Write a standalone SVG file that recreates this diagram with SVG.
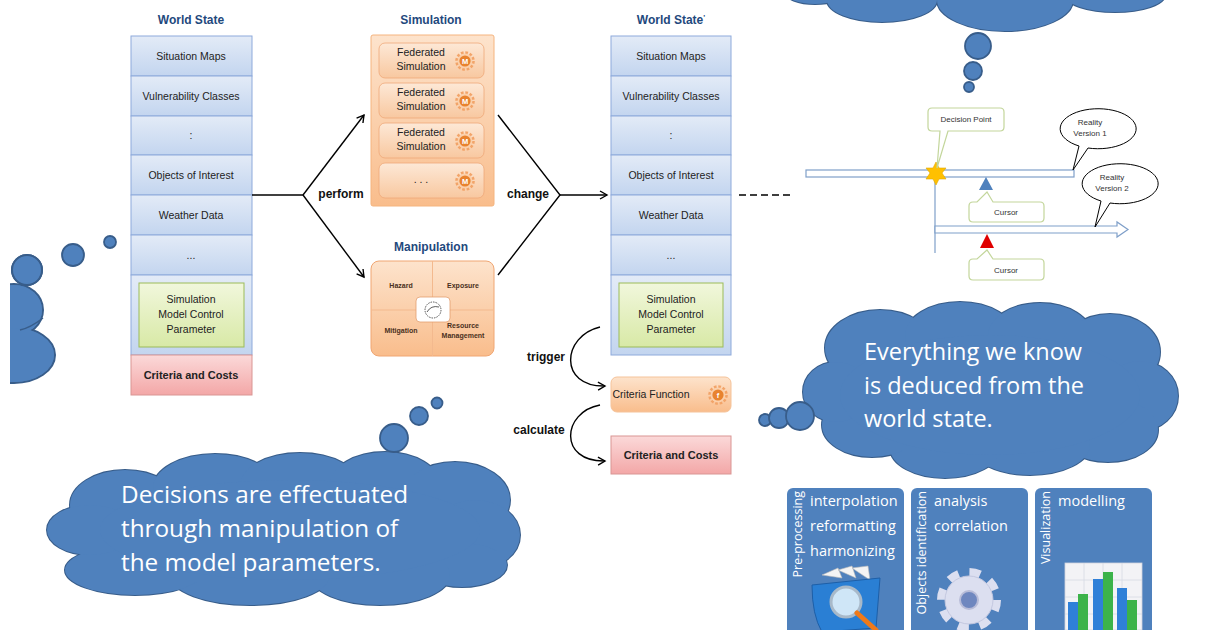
<svg xmlns="http://www.w3.org/2000/svg" width="1226" height="630" viewBox="0 0 1226 630">
  <defs>
    <style>
      .hdr { font-family: "Liberation Sans", Arial, sans-serif; font-weight: bold; font-size: 12px; fill: #1f497d; text-anchor: middle; }
      .cell { font-family: "Liberation Sans", Arial, sans-serif; font-size: 10.5px; fill: #222; text-anchor: middle; }
      .cellb { font-family: "Liberation Sans", Arial, sans-serif; font-size: 11px; font-weight: bold; fill: #222; text-anchor: middle; }
      .small { font-family: "Liberation Sans", Arial, sans-serif; font-size: 8px; fill: #333; text-anchor: middle; }
      .tiny { font-family: "Liberation Sans", Arial, sans-serif; font-size: 7px; font-weight: bold; fill: #4a3020; text-anchor: middle; }
      .badge { font-family: "Liberation Sans", Arial, sans-serif; font-size: 7.5px; font-weight: bold; fill: #ffffff; text-anchor: middle; }
      .lbl { font-family: "Liberation Sans", Arial, sans-serif; font-size: 12px; font-weight: bold; fill: #111; text-anchor: middle; }
      .cloudtxt { font-family: "Open Sans", "Liberation Sans", sans-serif; font-size: 23.5px; fill: #ffffff; }
      .paneltxt { font-family: "Open Sans", "Liberation Sans", sans-serif; font-size: 14.5px; fill: #ffffff; }
      .vert { font-family: "Open Sans", "Liberation Sans", sans-serif; font-size: 12.5px; fill: #ffffff; text-anchor: end; }
      .row { fill: url(#blueRow); stroke: #8eaadb; stroke-width: 1; }
      .cloud-edge { fill: #4f81bd; stroke: #385d8a; stroke-width: 2; }
      .cloud-fill { fill: #4f81bd; stroke: none; }
      .bubble { fill: #4f81bd; stroke: #385d8a; stroke-width: 1.8; }
      .conn { fill: none; stroke: #000; stroke-width: 1.4; }
      .callout { fill: #fff; stroke: #c3d69b; stroke-width: 1.2; }
      .speech { fill: #fff; stroke: #000; stroke-width: 1; }
      .track { fill: #fff; stroke: #7f9fc9; stroke-width: 1.2; }
      .panel { fill: #4f81bd; }
    </style>
    <linearGradient id="blueRow" x1="0" y1="0" x2="0" y2="1">
      <stop offset="0" stop-color="#e3ebf7"/>
      <stop offset="1" stop-color="#c3d5ef"/>
    </linearGradient>
    <linearGradient id="greenBox" x1="0" y1="0" x2="0" y2="1">
      <stop offset="0" stop-color="#f1f7dc"/>
      <stop offset="1" stop-color="#d8e9a6"/>
    </linearGradient>
    <linearGradient id="pinkBox" x1="0" y1="0" x2="0" y2="1">
      <stop offset="0" stop-color="#fbd9d9"/>
      <stop offset="1" stop-color="#f3a7a7"/>
    </linearGradient>
    <linearGradient id="orangeBox" x1="0" y1="0" x2="0" y2="1">
      <stop offset="0" stop-color="#fde3cc"/>
      <stop offset="1" stop-color="#f9bd8c"/>
    </linearGradient>
    <linearGradient id="orangeInner" x1="0" y1="0" x2="0" y2="1">
      <stop offset="0" stop-color="#fde8d6"/>
      <stop offset="1" stop-color="#f8c8a0"/>
    </linearGradient>
    <marker id="arrow" markerWidth="10" markerHeight="10" refX="8" refY="5" orient="auto" markerUnits="userSpaceOnUse">
      <path d="M1,1 L8,5 L1,9" fill="none" stroke="#000" stroke-width="1.4"/>
    </marker>
    <!-- small orange gear badge -->
    <symbol id="gear" viewBox="-10 -10 20 20" overflow="visible">
      <circle r="8.2" fill="none" stroke="#f2a469" stroke-width="3.2" stroke-dasharray="2.6 1.7"/>
      <circle r="7.4" fill="#fbd0ab"/>
      <circle r="5.6" fill="#e8832f"/>
    </symbol>
    <!-- cloud outlines -->
    <g id="cloudTop">
      <ellipse cx="815" cy="-8" rx="30" ry="12"/>
      <ellipse cx="882" cy="0" rx="55" ry="22"/>
      <ellipse cx="1005" cy="0" rx="68" ry="31"/>
      <ellipse cx="1115" cy="-5" rx="50" ry="17"/>
    </g>
    <g id="cloudRight">
      <ellipse cx="880" cy="348" rx="55" ry="38"/>
      <ellipse cx="960" cy="336" rx="55" ry="34"/>
      <ellipse cx="1040" cy="336" rx="52" ry="33"/>
      <ellipse cx="1110" cy="352" rx="50" ry="38"/>
      <ellipse cx="1140" cy="396" rx="38" ry="35"/>
      <ellipse cx="1108" cy="430" rx="50" ry="32"/>
      <ellipse cx="1030" cy="445" rx="60" ry="30"/>
      <ellipse cx="945" cy="448" rx="55" ry="30"/>
      <ellipse cx="872" cy="425" rx="50" ry="32"/>
      <ellipse cx="836" cy="392" rx="33" ry="30"/>
      <ellipse cx="990" cy="395" rx="150" ry="60"/>
    </g>
    <g id="cloudLeft">
      <ellipse cx="125" cy="505" rx="55" ry="35"/>
      <ellipse cx="215" cy="488" rx="62" ry="34"/>
      <ellipse cx="300" cy="486" rx="60" ry="33"/>
      <ellipse cx="385" cy="485" rx="55" ry="33"/>
      <ellipse cx="455" cy="500" rx="55" ry="38"/>
      <ellipse cx="475" cy="535" rx="45" ry="35"/>
      <ellipse cx="462" cy="565" rx="45" ry="22"/>
      <ellipse cx="380" cy="575" rx="70" ry="30"/>
      <ellipse cx="250" cy="575" rx="80" ry="30"/>
      <ellipse cx="135" cy="570" rx="70" ry="25"/>
      <ellipse cx="90" cy="530" rx="43" ry="25"/>
      <ellipse cx="290" cy="530" rx="190" ry="50"/>
    </g>
    <g id="cloudEdge">
      <circle cx="27" cy="270" r="15"/>
      <ellipse cx="14" cy="310" rx="29" ry="26"/>
      <ellipse cx="14" cy="355" rx="41" ry="28"/>
    </g>
    <clipPath id="edgeClip"><rect x="10" y="0" width="200" height="630"/></clipPath>
  </defs>

  <rect x="0" y="0" width="1226" height="630" fill="#ffffff"/>

  <!-- thought clouds -->
  <g id="cloud-top">
    <use href="#cloudTop" class="cloud-edge"/>
    <use href="#cloudTop" class="cloud-fill"/>
    <circle class="bubble" cx="978" cy="46" r="13"/>
    <circle class="bubble" cx="973" cy="71" r="9"/>
    <circle class="bubble" cx="969" cy="87" r="5"/>
  </g>
  <g id="cloud-edge">
    <g clip-path="url(#edgeClip)">
      <use href="#cloudEdge" class="cloud-edge"/>
      <circle class="cloud-edge" cx="27" cy="270" r="15"/>
      <ellipse class="cloud-fill" cx="14" cy="310" rx="28" ry="25"/>
      <ellipse class="cloud-fill" cx="14" cy="355" rx="40" ry="27"/>
      <path d="M20,330 Q30,328 43,318" fill="none" stroke="#385d8a" stroke-width="1.5"/>
    </g>
    <circle class="bubble" cx="73" cy="255" r="11"/>
    <circle class="bubble" cx="110" cy="242" r="6"/>
  </g>
  <g id="cloud-knowledge">
    <use href="#cloudRight" class="cloud-edge"/>
    <use href="#cloudRight" class="cloud-fill"/>
    <circle class="bubble" cx="765" cy="420" r="6"/>
    <circle class="bubble" cx="779" cy="418" r="10"/>
    <circle class="bubble" cx="800" cy="416" r="14"/>
    <text class="cloudtxt" x="864" y="360">Everything we know</text>
    <text class="cloudtxt" x="864" y="394">is deduced from the</text>
    <text class="cloudtxt" x="864" y="427">world state.</text>
  </g>
  <g id="cloud-decisions">
    <use href="#cloudLeft" class="cloud-edge"/>
    <use href="#cloudLeft" class="cloud-fill"/>
    <circle class="bubble" cx="394" cy="438" r="14"/>
    <circle class="bubble" cx="419" cy="416" r="9"/>
    <circle class="bubble" cx="437" cy="403" r="5.5"/>
    <text class="cloudtxt" x="121" y="503" style="font-size:24.3px">Decisions are effectuated</text>
    <text class="cloudtxt" x="121" y="537" style="font-size:24.3px">through manipulation of</text>
    <text class="cloudtxt" x="121" y="571" style="font-size:24.3px">the model parameters.</text>
  </g>

  <!-- world state -->
  <g id="world-state">
    <text class="hdr" x="191" y="24">World State</text>
    <rect class="row" x="131" y="36" width="121" height="40"/>
    <rect class="row" x="131" y="76" width="121" height="40"/>
    <rect class="row" x="131" y="116" width="121" height="39"/>
    <rect class="row" x="131" y="155" width="121" height="40"/>
    <rect class="row" x="131" y="195" width="121" height="40"/>
    <rect class="row" x="131" y="235" width="121" height="40"/>
    <rect class="row" x="131" y="275" width="121" height="80"/>
    <text class="cell" x="191" y="60">Situation Maps</text>
    <text class="cell" x="191" y="100">Vulnerability Classes</text>
    <text class="cell" x="191" y="139">:</text>
    <text class="cell" x="191" y="179">Objects of Interest</text>
    <text class="cell" x="191" y="219">Weather Data</text>
    <text class="cell" x="191" y="259">...</text>
    <rect x="139" y="283" width="105" height="64" fill="url(#greenBox)" stroke="#9bbb59" stroke-width="1"/>
    <text class="cell" x="191" y="303">Simulation</text>
    <text class="cell" x="191" y="318">Model Control</text>
    <text class="cell" x="191" y="333">Parameter</text>
    <rect x="131" y="355" width="121" height="40" fill="url(#pinkBox)" stroke="#d99694" stroke-width="1"/>
    <text class="cellb" x="191" y="379">Criteria and Costs</text>
  </g>

  <!-- simulation -->
  <g id="simulation">
    <text class="hdr" x="431" y="24">Simulation</text>
    <rect x="371" y="35" width="123" height="171" rx="2" fill="url(#orangeBox)" stroke="#f5b47e" stroke-width="1"/>
    <rect x="379" y="43" width="105" height="35" rx="6" fill="url(#orangeInner)" stroke="#efa878" stroke-width="0.8"/>
    <rect x="379" y="83" width="105" height="35" rx="6" fill="url(#orangeInner)" stroke="#efa878" stroke-width="0.8"/>
    <rect x="379" y="123" width="105" height="35" rx="6" fill="url(#orangeInner)" stroke="#efa878" stroke-width="0.8"/>
    <rect x="379" y="163" width="105" height="35" rx="6" fill="url(#orangeInner)" stroke="#efa878" stroke-width="0.8"/>
    <text class="cell" x="421" y="56">Federated</text>
    <text class="cell" x="421" y="70">Simulation</text>
    <text class="cell" x="421" y="96">Federated</text>
    <text class="cell" x="421" y="110">Simulation</text>
    <text class="cell" x="421" y="136">Federated</text>
    <text class="cell" x="421" y="150">Simulation</text>
    <text class="cell" x="421" y="183">. . .</text>
    <use href="#gear" x="455" y="51" width="20" height="20"/>
    <use href="#gear" x="455" y="91" width="20" height="20"/>
    <use href="#gear" x="455" y="131" width="20" height="20"/>
    <use href="#gear" x="455" y="171" width="20" height="20"/>
    <text class="badge" x="465" y="64">M</text>
    <text class="badge" x="465" y="104">M</text>
    <text class="badge" x="465" y="144">M</text>
    <text class="badge" x="465" y="184">M</text>
  </g>

  <!-- manipulation -->
  <g id="manipulation">
    <text class="hdr" x="431" y="251">Manipulation</text>
    <rect x="371" y="261" width="123" height="95" rx="8" fill="url(#orangeBox)" stroke="#f0a673" stroke-width="1"/>
    <line x1="432.5" y1="261" x2="432.5" y2="356" stroke="#f3b98e" stroke-width="1"/>
    <line x1="371" y1="310" x2="494" y2="310" stroke="#f3b98e" stroke-width="1"/>
    <text class="tiny" x="401" y="288">Hazard</text>
    <text class="tiny" x="463" y="288">Exposure</text>
    <text class="tiny" x="401" y="333">Mitigation</text>
    <text class="tiny" x="463" y="328">Resource</text>
    <text class="tiny" x="463" y="338">Management</text>
    <rect x="416" y="297" width="34" height="25" rx="4" fill="#ffffff" stroke="#e3a070" stroke-width="0.8"/>
    <circle cx="433" cy="310" r="8" fill="none" stroke="#555" stroke-width="1" stroke-dasharray="1.5 1"/>
    <path d="M427,312 Q431,305 439,307" fill="none" stroke="#333" stroke-width="0.8"/>
  </g>

  <!-- world state after change -->
  <g id="world-state-next">
    <text class="hdr" x="671" y="24">World State<tspan font-size="8" dy="-4">'</tspan></text>
    <rect class="row" x="611" y="36" width="120" height="40"/>
    <rect class="row" x="611" y="76" width="120" height="40"/>
    <rect class="row" x="611" y="116" width="120" height="39"/>
    <rect class="row" x="611" y="155" width="120" height="40"/>
    <rect class="row" x="611" y="195" width="120" height="40"/>
    <rect class="row" x="611" y="235" width="120" height="40"/>
    <rect class="row" x="611" y="275" width="120" height="80"/>
    <text class="cell" x="671" y="60">Situation Maps</text>
    <text class="cell" x="671" y="100">Vulnerability Classes</text>
    <text class="cell" x="671" y="139">:</text>
    <text class="cell" x="671" y="179">Objects of Interest</text>
    <text class="cell" x="671" y="219">Weather Data</text>
    <text class="cell" x="671" y="259">...</text>
    <rect x="619" y="283" width="104" height="64" fill="url(#greenBox)" stroke="#9bbb59" stroke-width="1"/>
    <text class="cell" x="671" y="303">Simulation</text>
    <text class="cell" x="671" y="318">Model Control</text>
    <text class="cell" x="671" y="333">Parameter</text>
  </g>

  <g id="criteria-function">
    <rect x="611" y="377" width="120" height="35" rx="6" fill="url(#orangeBox)" stroke="#f5c39a" stroke-width="1"/>
    <text class="cell" x="651" y="398">Criteria Function</text>
    <use href="#gear" x="708" y="385" width="20" height="20"/>
    <text class="badge" x="718" y="398">f</text>
  </g>
  <g id="criteria-costs">
    <rect x="611" y="436" width="120" height="38" fill="url(#pinkBox)" stroke="#d99694" stroke-width="1"/>
    <text class="cellb" x="671" y="459">Criteria and Costs</text>
  </g>

  <!-- timeline with decision point -->
  <g id="timeline">
    <rect class="track" x="806" y="170" width="268" height="7"/>
    <line x1="935" y1="177" x2="935" y2="253" stroke="#7f9fc9" stroke-width="1.2"/>
    <path class="track" d="M935,226 L1117,226 L1117,222 L1128,229.5 L1117,237 L1117,233 L935,233 Z"/>
    <polygon points="936,162 939,168 946,168 942,173 946,179 939,179 936,185 933,179 926,179 930,173 926,168 933,168" fill="#ffc000" stroke="#e0a800" stroke-width="0.6"/>
    <polygon points="979,190 993,190 986,177" fill="#4f81bd"/>
    <polygon points="980,248 994,248 987,234" fill="#e00000"/>
  </g>
  <g id="decision-point">
    <path class="callout" d="M932,108 L1000,108 Q1004,108 1004,112 L1004,127 Q1004,131 1000,131 L948,131 L937,168 L940,131 L932,131 Q928,131 928,127 L928,112 Q928,108 932,108 Z"/>
    <text class="small" x="966" y="122">Decision Point</text>
  </g>
  <g id="cursor-1">
    <path class="callout" d="M973,202 L977,202 L987,192 L993,202 L1040,202 Q1044,202 1044,206 L1044,218 Q1044,222 1040,222 L973,222 Q969,222 969,218 L969,206 Q969,202 973,202 Z"/>
    <text class="small" x="1006" y="215">Cursor</text>
  </g>
  <g id="cursor-2">
    <path class="callout" d="M973,259 L977,259 L987,250 L993,259 L1040,259 Q1044,259 1044,263 L1044,276 Q1044,280 1040,280 L973,280 Q969,280 969,276 L969,263 Q969,259 973,259 Z"/>
    <text class="small" x="1006" y="273">Cursor</text>
  </g>
  <g id="reality-1">
    <path class="speech" d="M1079,146 A38,20 0 1 1 1088,148 L1073,170 Z"/>
    <text class="small" x="1090" y="125">Reality</text>
    <text class="small" x="1090" y="136">Version 1</text>
  </g>
  <g id="reality-2">
    <path class="speech" d="M1101,201 A38,20 0 1 1 1110,203 L1095,227 Z"/>
    <text class="small" x="1112" y="180">Reality</text>
    <text class="small" x="1112" y="191">Version 2</text>
  </g>

  <!-- processing chain panels -->
  <g id="panel-preprocessing">
    <rect class="panel" x="787" y="488" width="117" height="150" rx="6"/>
    <text class="vert" transform="translate(802,491) rotate(-90)">Pre-processing</text>
    <text class="paneltxt" x="810" y="506">interpolation</text>
    <text class="paneltxt" x="810" y="531">reformatting</text>
    <text class="paneltxt" x="810" y="556">harmonizing</text>
    <path d="M822,575 L838,568 L842,578 Z M838,570 L852,566 L856,578 Z M852,568 L868,566 L870,580 Z" fill="#f4f4f4" stroke="#bbb" stroke-width="0.6"/>
    <path d="M812,585 L880,578 L876,628 L822,632 Q812,615 812,585 Z" fill="#2a7fd4" stroke="#1d5fa8" stroke-width="1"/>
    <circle cx="846" cy="602" r="15" fill="#cfe6f7" stroke="#a8b9c9" stroke-width="3"/>
    <line x1="857" y1="613" x2="876" y2="630" stroke="#f07a1a" stroke-width="5" stroke-linecap="round"/>
  </g>
  <polygon points="904,603 916,610 904,617" fill="#ffffff"/>
  <g id="panel-objects">
    <rect class="panel" x="911" y="488" width="117" height="150" rx="6"/>
    <text class="vert" transform="translate(926,491) rotate(-90)">Objects identification</text>
    <text class="paneltxt" x="934" y="506">analysis</text>
    <text class="paneltxt" x="934" y="531">correlation</text>
    <circle cx="969" cy="600" r="27" fill="none" stroke="#dcdff0" stroke-width="10" stroke-dasharray="10.6 10.6"/>
    <circle cx="969" cy="600" r="24" fill="#dcdff0" stroke="#c4c8e0" stroke-width="1"/>
    <circle cx="969" cy="600" r="9" fill="#6f87bf" stroke="#b8bcd8" stroke-width="2"/>
  </g>
  <polygon points="1028,603 1040,610 1028,617" fill="#ffffff"/>
  <g id="panel-visualization">
    <rect class="panel" x="1035" y="488" width="117" height="150" rx="6"/>
    <text class="vert" transform="translate(1050,491) rotate(-90)">Visualization</text>
    <text class="paneltxt" x="1058" y="506">modelling</text>
    <rect x="1065" y="563" width="77" height="67" fill="#f3f3f6" stroke="#cfd3df" stroke-width="0.8"/>
    <path d="M1065,580 H1142 M1065,597 H1142 M1065,614 H1142 M1084,563 V630 M1103,563 V630 M1122,563 V630" stroke="#d5d9e4" stroke-width="0.8"/>
    <rect x="1068" y="602" width="10" height="28" fill="#2f80d8"/>
    <rect x="1078" y="594" width="10" height="36" fill="#3cb34a"/>
    <rect x="1093" y="579" width="10" height="51" fill="#2f80d8"/>
    <rect x="1103" y="572" width="10" height="58" fill="#3cb34a"/>
    <rect x="1117" y="588" width="10" height="42" fill="#2f80d8"/>
    <rect x="1127" y="600" width="10" height="30" fill="#3cb34a"/>
  </g>

  <!-- connectors -->
  <g id="connectors">
    <path class="conn" d="M252,195 L303,195"/>
    <path class="conn" d="M303,195 L364,115" marker-end="url(#arrow)"/>
    <path class="conn" d="M303,195 L364,277" marker-end="url(#arrow)"/>
    <path class="conn" d="M498,115 L560,195 L498,275"/>
    <path class="conn" d="M560,195 L607,195" marker-end="url(#arrow)"/>
    <path class="conn" d="M739,195 L791,195" stroke-dasharray="7 4" stroke-width="1.6"/>
    <path class="conn" d="M600,327 C562,336 558,387 605,386" marker-end="url(#arrow)"/>
    <path class="conn" d="M600,405 C562,412 558,462 605,461" marker-end="url(#arrow)"/>
    <text class="lbl" x="341" y="198">perform</text>
    <text class="lbl" x="528" y="198">change</text>
    <text class="lbl" x="546" y="361">trigger</text>
    <text class="lbl" x="539" y="434">calculate</text>
  </g>
</svg>
